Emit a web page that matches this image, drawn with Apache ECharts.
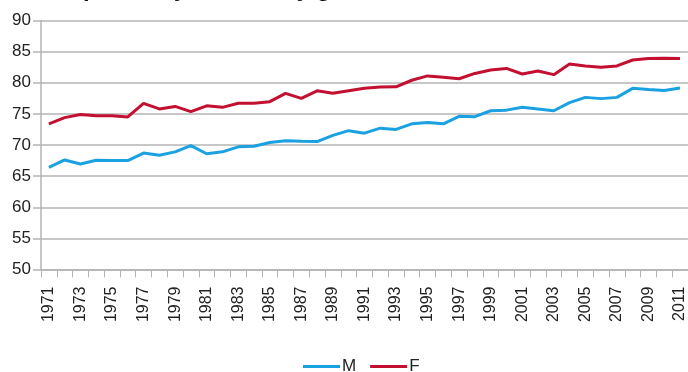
<!DOCTYPE html>
<html>
<head>
<meta charset="utf-8">
<script src="https://cdn.jsdelivr.net/npm/echarts@6/dist/echarts.min.js"></script>
<style>
  html, body { margin: 0; padding: 0; background: #fff; }
  #chart { width: 688px; height: 372px; }
</style>
</head>
<body>
<div id="chart"></div>
<script>
// Life expectancy at birth, 1971-2011
const years = [];
for (let y = 1971; y <= 2011; y++) years.push(String(y));

const male = [
  66.4, 67.6, 66.95, 67.55, 67.5, 67.5, 68.7, 68.35, 68.9, 69.9,
  68.6, 68.9, 69.7, 69.8, 70.4, 70.7, 70.6, 70.55, 71.55, 72.3,
  71.9, 72.7, 72.5, 73.4, 73.6, 73.4, 74.6, 74.55, 75.5, 75.6,
  76.05, 75.8, 75.5, 76.8, 77.65, 77.45, 77.65, 79.1, 78.9, 78.75,
  79.15
];

const female = [
  73.4, 74.4, 74.9, 74.7, 74.7, 74.5, 76.7, 75.8, 76.2, 75.35,
  76.3, 76.05, 76.7, 76.7, 76.96, 78.3, 77.5, 78.7, 78.3, 78.7,
  79.1, 79.3, 79.35, 80.4, 81.1, 80.9, 80.65, 81.5, 82.05, 82.3,
  81.4, 81.9, 81.3, 83.0, 82.7, 82.5, 82.7, 83.65, 83.9, 83.95,
  83.9
];

const yTicks = { min: 50, max: 90, step: 5 };

const FONT = '"Liberation Sans", "DejaVu Sans", sans-serif';
const GRID_COLOR = '#b4b4b4';

const chart = echarts.init(document.getElementById('chart'), null, { renderer: 'canvas' });

chart.setOption({
  animation: false,
  backgroundColor: '#ffffff',
  title: {
    text: 'Life expectancy at birth by gender, 1971\u20132011',
    left: 2,
    top: -28,
    textStyle: {
      fontFamily: FONT,
      fontWeight: 'bold',
      fontSize: 24,
      lineHeight: 24,
      color: '#111'
    }
  },
  grid: { left: 41, right: 0, top: 20.5, bottom: 102.5, containLabel: false },
  legend: {
    left: 303,
    top: 358,
    padding: 0,
    icon: 'rect',
    itemWidth: 37,
    itemHeight: 3,
    itemGap: 14,
    textStyle: { fontFamily: FONT, fontSize: 17, color: '#222', padding: [0, 0, 0, -3] },
    data: ['M', 'F']
  },
  xAxis: {
    type: 'category',
    data: years,
    boundaryGap: true,
    axisLine: { lineStyle: { color: GRID_COLOR, width: 1.5 } },
    axisTick: { show: true, interval: 0, length: 8, lineStyle: { color: GRID_COLOR, width: 1 } },
    axisLabel: {
      interval: 1,
      rotate: 90,
      margin: 17,
      fontFamily: FONT,
      fontSize: 16,
      color: '#222'
    },
    splitLine: { show: false }
  },
  yAxis: {
    type: 'value',
    min: yTicks.min,
    max: yTicks.max,
    interval: yTicks.step,
    axisLine: { show: true, lineStyle: { color: GRID_COLOR, width: 1.5 } },
    axisTick: { show: true, length: 8, lineStyle: { color: GRID_COLOR, width: 1.5 } },
    axisLabel: { margin: 10, fontFamily: FONT, fontSize: 17, color: '#222' },
    splitLine: { show: true, lineStyle: { color: GRID_COLOR, width: 1.5 } }
  },
  series: [
    {
      name: 'M',
      type: 'line',
      data: male,
      symbol: 'none',
      lineStyle: { color: '#1aa1e1', width: 3 },
      itemStyle: { color: '#1aa1e1' }
    },
    {
      name: 'F',
      type: 'line',
      data: female,
      symbol: 'none',
      lineStyle: { color: '#c30f30', width: 3 },
      itemStyle: { color: '#c30f30' }
    }
  ]
});
</script>
</body>
</html>
